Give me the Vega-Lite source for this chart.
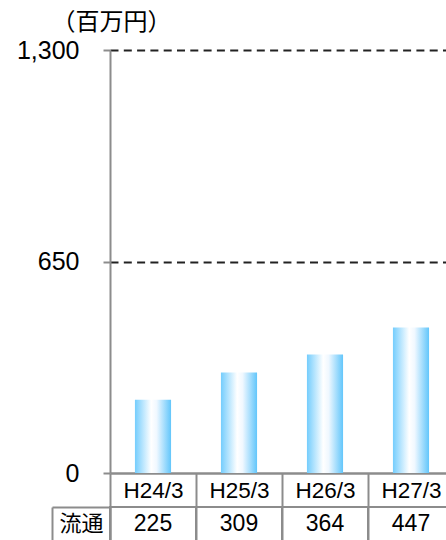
{
  "$schema": "https://vega.github.io/schema/vega-lite/v6.json",
  "width": 344,
  "height": 423,
  "autosize": {"type": "none"},
  "padding": {"left": 110, "top": 50, "right": 0, "bottom": 67},
  "background": "white",
  "config": {
    "view": {"stroke": null},
    "font": "Liberation Sans",
    "axis": {"labelColor": "#000000", "titleColor": "#000000"}
  },
  "data": {
    "values": [
      {"period": "H24/3", "row": "流通", "value": 225},
      {"period": "H25/3", "row": "流通", "value": 309},
      {"period": "H26/3", "row": "流通", "value": 364},
      {"period": "H27/3", "row": "流通", "value": 447}
    ]
  },
  "encoding": {
    "x": {
      "field": "period",
      "type": "nominal",
      "sort": null,
      "scale": {"paddingInner": 0, "paddingOuter": 0},
      "axis": {
        "orient": "bottom",
        "title": null,
        "domainColor": "#8c8c8c",
        "domainWidth": 2.5,
        "tickBand": "extent",
        "tickSize": 68,
        "tickColor": "#8c8c8c",
        "tickWidth": 2,
        "labelAngle": 0,
        "labelFontSize": 22.5,
        "labelBaseline": "middle",
        "labelPadding": -51
      }
    }
  },
  "resolve": {"scale": {"y": "independent"}, "axis": {"y": "independent"}},
  "layer": [
    {
      "mark": {
        "type": "bar",
        "width": {"band": 0.42},
        "color": {
          "gradient": "linear",
          "x1": 0, "x2": 1, "y1": 0, "y2": 0,
          "stops": [
            {"offset": 0, "color": "#74cdfd"},
            {"offset": 0.45, "color": "#ffffff"},
            {"offset": 0.6, "color": "#f0f8ff"},
            {"offset": 1, "color": "#62c6fb"}
          ]
        }
      },
      "encoding": {
        "y": {
          "field": "value",
          "type": "quantitative",
          "scale": {"domain": [0, 1300]},
          "axis": {
            "orient": "left",
            "values": [0, 650, 1300],
            "format": ",d",
            "domainColor": "#8c8c8c",
            "domainWidth": 2,
            "tickColor": "#8c8c8c",
            "tickWidth": 2,
            "tickSize": 7,
            "labelFontSize": 25,
            "labelPadding": 24,
            "labelBaseline": "middle",
            "grid": true,
            "gridColor": "#222222",
            "gridWidth": 2,
            "gridDash": [8, 5.3],
            "gridOpacity": {"condition": {"test": "datum.value === 0", "value": 0}, "value": 1},
            "title": "（百万円）",
            "titleFont": "Noto Sans CJK JP",
            "titleFontSize": 24,
            "titleFontWeight": "normal",
            "titleAngle": 0,
            "titleX": 1,
            "titleY": -28,
            "titleAlign": "center",
            "titleBaseline": "middle"
          }
        }
      }
    },
    {
      "mark": {"type": "rect", "fill": "white", "fillOpacity": 0, "stroke": "#8c8c8c", "strokeWidth": 2},
      "encoding": {
        "y": {
          "field": "row",
          "type": "nominal",
          "scale": {"range": [457, 491], "paddingInner": 0, "paddingOuter": 0},
          "axis": {
            "orient": "left",
            "title": null,
            "domainColor": "#8c8c8c",
            "domainWidth": 2,
            "bandPosition": 0,
            "tickSize": 58,
            "tickColor": "#8c8c8c",
            "tickWidth": 2,
            "labelFont": "Noto Sans CJK JP",
            "labelFontSize": 22,
            "labelAlign": "center",
            "labelBaseline": "middle",
            "labelPadding": -29
          }
        }
      }
    },
    {
      "mark": {"type": "text", "fontSize": 23, "color": "#000000", "baseline": "middle"},
      "encoding": {
        "y": {
          "field": "row",
          "type": "nominal",
          "scale": {"range": [457, 491], "paddingInner": 0, "paddingOuter": 0},
          "axis": {
            "orient": "left",
            "offset": 58,
            "title": null,
            "ticks": false,
            "labels": false,
            "domainColor": "#8c8c8c",
            "domainWidth": 2
          }
        },
        "text": {"field": "value", "type": "quantitative"}
      }
    }
  ]
}
